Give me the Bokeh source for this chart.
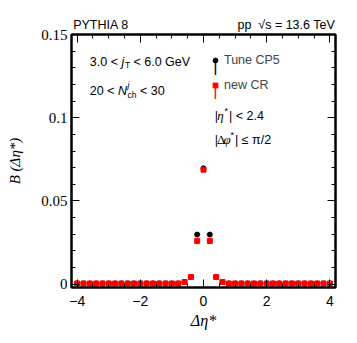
import math
from bokeh.plotting import figure
from bokeh.models import (FixedTicker, LinearAxis, Label, Legend, LegendItem,
                          CustomJSTickFormatter, ColumnDataSource, Range1d)
from bokeh.embed import file_html
from bokeh.resources import INLINE

# ---------------- data ----------------
delta_eta = [-4.0, -3.8, -3.6, -3.4, -3.2, -3.0, -2.8, -2.6, -2.4, -2.2, -2.0,
             -1.8, -1.6, -1.4, -1.2, -1.0, -0.8, -0.6, -0.4, -0.2, 0.0,
             0.2, 0.4, 0.6, 0.8, 1.0, 1.2, 1.4, 1.6, 1.8, 2.0,
             2.2, 2.4, 2.6, 2.8, 3.0, 3.2, 3.4, 3.6, 3.8, 4.0]
b_cp5 = [0.0004, 0.0004, 0.0004, 0.0004, 0.0004, 0.0004, 0.0004, 0.0004, 0.0004, 0.0004, 0.0004,
         0.0004, 0.0004, 0.0004, 0.0004, 0.0004, 0.0004, 0.0013, 0.0043, 0.0298, 0.0696,
         0.0298, 0.0043, 0.0013, 0.0004, 0.0004, 0.0004, 0.0004, 0.0004, 0.0004, 0.0004,
         0.0004, 0.0004, 0.0004, 0.0004, 0.0004, 0.0004, 0.0004, 0.0004, 0.0004, 0.0004]
b_newcr = [0.0004, 0.0004, 0.0004, 0.0004, 0.0004, 0.0004, 0.0004, 0.0004, 0.0004, 0.0004, 0.0004,
           0.0004, 0.0004, 0.0004, 0.0004, 0.0004, 0.0004, 0.0013, 0.0043, 0.0260, 0.0688,
           0.0260, 0.0043, 0.0013, 0.0004, 0.0004, 0.0004, 0.0004, 0.0004, 0.0004, 0.0004,
           0.0004, 0.0004, 0.0004, 0.0004, 0.0004, 0.0004, 0.0004, 0.0004, 0.0004, 0.0004]
x_major = [-4, -2, 0, 2, 4]
x_minor = [-4, -3.5, -3, -2.5, -2, -1.5, -1, -0.5, 0, 0.5, 1, 1.5, 2, 2.5, 3, 3.5, 4]
y_major = [0, 0.05, 0.1, 0.15]
y_minor = [0, 0.01, 0.02, 0.03, 0.04, 0.05, 0.06, 0.07, 0.08, 0.09, 0.10,
           0.11, 0.12, 0.13, 0.14, 0.15]

XMIN, XMAX = -4.18, 4.18
YMIN, YMAX = -0.002, 0.15

SANS = "Liberation Sans"
SERIF = "Liberation Serif"
NB = "\u00a0"
EM = "\u2003"

header = ("PYTHIA 8" + EM * 8 + "\u2002\u2005" +
          "pp" + NB + " \u221as = 13.6 TeV")

p = figure(width=349, height=335, output_backend="svg", toolbar_location=None,
           x_range=Range1d(XMIN, XMAX), y_range=Range1d(YMIN, YMAX),
           min_border_left=71, min_border_right=14, min_border_top=34, min_border_bottom=48)
p.xgrid.visible = False
p.ygrid.visible = False
p.outline_line_color = "black"
p.outline_line_width = 2
p.background_fill_color = "white"
p.border_fill_color = "white"

p.title.text = header
p.title.align = "left"
p.title.offset = 1.7
p.title.standoff = 6
p.title.text_font = SANS
p.title.text_font_size = "12.5px"
p.title.text_font_style = "normal"
p.title.text_color = "black"

xt = FixedTicker(ticks=x_major, minor_ticks=x_minor)
yt = FixedTicker(ticks=y_major, minor_ticks=y_minor)

xfmt = CustomJSTickFormatter(code="return tick < 0 ? '\u2212' + Math.abs(tick) : String(tick);")
yfmt = CustomJSTickFormatter(code="var s = tick.toFixed(2).replace(/0+$/, '').replace(/\\.$/, ''); return s;")
blank = CustomJSTickFormatter(code="return '';")


def style_axis(ax):
    ax.axis_line_color = "black"
    ax.axis_line_width = 2
    ax.major_tick_in = 8
    ax.major_tick_out = 0
    ax.minor_tick_in = 4
    ax.minor_tick_out = 0
    ax.major_tick_line_color = "black"
    ax.minor_tick_line_color = "black"
    ax.major_tick_line_width = 1
    ax.minor_tick_line_width = 1
    ax.major_label_text_color = "black"
    ax.axis_label_text_color = "black"


xa = p.xaxis[0]
xa.ticker = xt
xa.formatter = xfmt
style_axis(xa)
xa.major_label_text_font = SANS
xa.major_label_text_font_size = "14px"
xa.major_label_standoff = 8
xa.axis_label = "\u0394\u03b7*"
xa.axis_label_text_font = SERIF
xa.axis_label_text_font_style = "italic"
xa.axis_label_text_font_size = "16px"
xa.axis_label_standoff = 3

ya = p.yaxis[0]
ya.ticker = yt
ya.formatter = yfmt
style_axis(ya)
ya.major_label_text_font = SERIF
ya.major_label_text_font_size = "15px"
ya.major_label_standoff = 4
ya.axis_label = "B (\u0394\u03b7*)"
ya.axis_label_text_font = SERIF
ya.axis_label_text_font_style = "italic"
ya.axis_label_text_font_size = "15px"
ya.axis_label_standoff = 15

top = LinearAxis(ticker=FixedTicker(ticks=x_major, minor_ticks=x_minor), formatter=blank)
style_axis(top)
top.major_label_standoff = 0
p.add_layout(top, "above")
right = LinearAxis(ticker=FixedTicker(ticks=y_major, minor_ticks=y_minor), formatter=blank)
style_axis(right)
p.add_layout(right, "right")

src = ColumnDataSource(dict(x=delta_eta, cp5=b_cp5, cr=b_newcr))
r_cp5 = p.scatter("x", "cp5", source=src, marker="circle", size=5,
                  fill_color="black", line_color="black")
r_cr = p.scatter("x", "cr", source=src, marker="square", size=5,
                 fill_color="red", line_color="red")

leg = Legend(items=[LegendItem(label="Tune CP5", renderers=[r_cp5]),
                    LegendItem(label="new CR", renderers=[r_cr])],
             location=(138, 192), padding=0, margin=0, spacing=5,
             glyph_width=12, glyph_height=20, label_height=20, label_standoff=3,
             label_text_font=SANS, label_text_font_size="12.5px",
             border_line_color=None, background_fill_alpha=0)
p.add_layout(leg, "center")

FX0, FY0 = 71.0, 287.0


def put(txt, ix, iy, size, font=SANS, style="normal", align="left",
        baseline="alphabetic", angle=0.0, color="black"):
    p.add_layout(Label(x=XMIN, y=YMIN, x_offset=ix - FX0, y_offset=FY0 - iy, text=txt,
                       text_font=font, text_font_size=f"{size}px", text_font_style=style,
                       text_align=align, text_baseline=baseline, angle=angle,
                       text_color=color))


# legend error bars
put("|", 215.0, 65.0, 16.5, align="center", color="black")
put("|", 215.0, 89.7, 16.5, align="center", color="red")

# kinematic selection texts
put("3.0 <" + NB, 89.3, 61, 12.5)
put("j", 120.9, 61, 12.5, style="italic")
put("T", 124.5, 64.5, 8.5)
put(NB + "< 6.0 GeV", 129.5, 61, 12.5)

put("20 <" + NB, 89.3, 90.7, 12.5)
put("N", 117.5, 90.7, 12.5, style="italic")
put("j", 127.0, 84.0, 8.5, style="italic")
put("ch", 127.0, 94.5, 8.5)
put(NB + "< 30", 136.0, 90.7, 12.5)

put("|", 214.3, 115, 12.5)
put("\u03b7", 216.8, 115, 13, font=SERIF, style="italic")
put("*", 224.0, 110, 9)
put("| < 2.4", 228.5, 115, 12.5)

put("|", 214.3, 139.3, 12.5)
put("\u0394", 216.6, 139.3, 13, font=SERIF)
put("\u03c6", 223.0, 139.3, 13, font=SERIF, style="italic")
put("*", 230.0, 134.3, 9)
put("| \u2264 \u03c0/2", 234.5, 139.3, 12.5)

open("out.html", "w").write(file_html(p, INLINE))
